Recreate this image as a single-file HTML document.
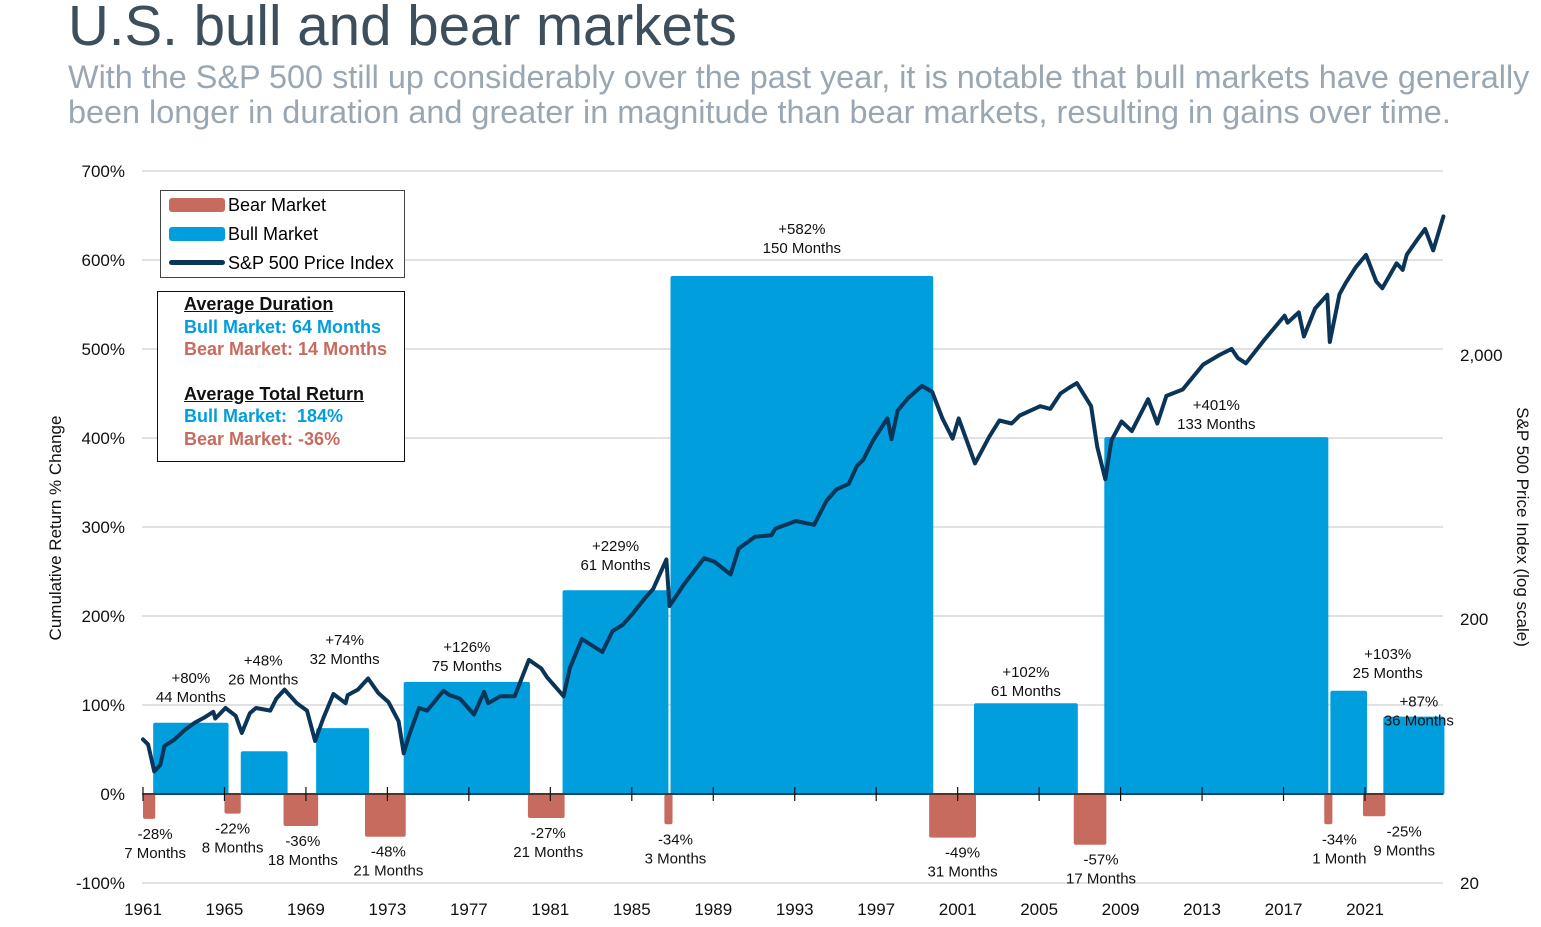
<!DOCTYPE html>
<html><head><meta charset="utf-8"><style>
body{margin:0;background:#fff;width:1541px;height:927px;overflow:hidden;font-family:"Liberation Sans",sans-serif}
.t{position:absolute;white-space:nowrap}
</style></head><body>
<div class="t" style="left:68px;top:-7px;font-size:56.5px;color:#3d4f5d">U.S. bull and bear markets</div>
<div class="t" style="left:68px;top:60px;font-size:32.4px;line-height:35px;color:#9aa7b2">With the S&amp;P 500 still up considerably over the past year, it is notable that bull markets have generally<br>been longer in duration and greater in magnitude than bear markets, resulting in gains over time.</div>
<svg id="c" width="1541" height="927" style="position:absolute;left:0;top:0" font-family="Liberation Sans, sans-serif"></svg>
<div class="t" style="left:160px;top:190px;width:243px;height:86px;border:1.5px solid #444;background:#fff;font-size:18px">
 <div style="position:absolute;left:8px;top:4px"><span style="display:inline-block;width:56px;height:14px;background:#c86b5f;border-radius:3px;vertical-align:-1px;margin-right:3px"></span>Bear Market</div>
 <div style="position:absolute;left:8px;top:33px"><span style="display:inline-block;width:56px;height:14px;background:#009edc;border-radius:3px;vertical-align:-1px;margin-right:3px"></span>Bull Market</div>
 <div style="position:absolute;left:8px;top:62px"><span style="display:inline-block;width:56px;height:5px;background:#0b3558;border-radius:3px;vertical-align:4px;margin-right:3px"></span>S&amp;P 500 Price Index</div>
</div>
<div class="t" style="left:157px;top:291px;width:248px;height:171px;border:1.5px solid #111;background:#fff;font-size:18px;font-weight:bold;line-height:22.5px;padding:1px 0 0 26px;box-sizing:border-box">
 <div style="text-decoration:underline;color:#111">Average Duration</div>
 <div style="color:#009edc">Bull Market: 64 Months</div>
 <div style="color:#c86b5f">Bear Market: 14 Months</div>
 <div style="height:22px"></div>
 <div style="text-decoration:underline;color:#111">Average Total Return</div>
 <div style="color:#009edc">Bull Market:&nbsp; 184%</div>
 <div style="color:#c86b5f">Bear Market: -36%</div>
</div>
<script>
const bullStart=[1961.5,1965.8,1969.5,1973.8,1981.6,1986.9,2001.8,2008.2,2019.3,2021.9];
const bullEnd=[1965.2,1968.1,1972.1,1980.0,1986.8,1999.8,2006.9,2019.2,2021.1,2024.9];
const bullVal=[80,48,74,126,229,582,102,401,116,87];
const bullLabel=["+80%","+48%","+74%","+126%","+229%","+582%","+102%","+401%","+103%","+87%"];
const bullMonths=["44 Months","26 Months","32 Months","75 Months","61 Months","150 Months","61 Months","133 Months","25 Months","36 Months"];
const bearStart=[1961.0,1965.0,1967.9,1971.9,1979.9,1986.6,1999.6,2006.7,2019.0,2020.9];
const bearEnd=[1961.6,1965.8,1969.6,1973.9,1981.7,1987.0,2001.9,2008.3,2019.4,2022.0];
const bearVal=[-28,-22,-36,-48,-27,-34,-49,-57,-34,-25];
const bearMonths=["7 Months","8 Months","18 Months","21 Months","21 Months","3 Months","31 Months","17 Months","1 Month","9 Months"];
const spYear=[1961.95,1962.2,1962.5,1962.8,1963.0,1963.5,1964.0,1964.5,1965.0,1965.4,1965.5,1966.0,1966.5,1966.8,1967.2,1967.5,1968.2,1968.5,1968.9,1969.5,1970.0,1970.4,1970.8,1971.3,1971.9,1972.0,1972.5,1973.0,1973.5,1974.0,1974.5,1974.75,1975.0,1975.5,1975.9,1976.7,1977.0,1977.5,1978.2,1978.7,1978.9,1979.5,1980.2,1980.9,1981.5,1981.8,1982.6,1982.9,1983.5,1984.5,1985.0,1985.5,1986.0,1986.6,1987.0,1987.65,1987.8,1988.5,1989.5,1990.0,1990.8,1991.2,1992.0,1992.8,1993.0,1994.0,1994.9,1995.5,1996.0,1996.6,1997.0,1997.3,1997.8,1998.5,1998.7,1999.0,1999.5,2000.2,2000.7,2001.2,2001.7,2002.0,2002.5,2002.8,2003.5,2004.0,2004.6,2005.0,2006.0,2006.5,2007.0,2007.4,2007.8,2008.5,2008.8,2009.2,2009.5,2010.0,2010.5,2011.3,2011.75,2012.2,2013.0,2014.0,2014.8,2015.4,2015.7,2016.1,2017.0,2018.0,2018.15,2018.7,2018.95,2019.5,2020.1,2020.22,2020.7,2021.0,2021.5,2022.0,2022.5,2022.8,2023.5,2023.8,2024.0,2024.5,2024.9,2025.3,2025.8];
const spPrice=[70,67,53,56,66,70,76,81,85,89,84,92,86,74,88,92,90,100,108,96,90,69,84,104,96,103,108,119,105,97,82,62,72,92,90,107,103,100,87,106,96,102,102,140,130,120,102,130,168,150,180,190,210,240,260,336,224,270,340,330,295,370,410,415,440,470,455,560,620,650,760,800,950,1150,960,1230,1370,1527,1450,1150,965,1150,900,777,980,1130,1100,1180,1280,1250,1430,1500,1565,1280,900,677,950,1120,1030,1360,1100,1400,1480,1840,2000,2110,1950,1860,2280,2820,2650,2900,2350,3000,3380,2240,3400,3750,4300,4790,3800,3580,4450,4200,4800,5450,6000,4980,6700];
const yTicks=[700,600,500,400,300,200,100,0,-100];
const xTicks=[1961,1965,1969,1973,1977,1981,1985,1989,1993,1997,2001,2005,2009,2013,2017,2021];
const rTicks=[2000,200,20];
const rLabels=["2,000","200","20"];
const bearLabelShift=[6,0,2,3,2,7,10,11,11,30];
const bullLabelDy=[-45,-91,-88,-35,-44,-47,-31,-32,-37,-15];
const bullLabelDx=[0,-1,2,0,0,0,0,0,39,5];
const X=y=>143+(y-1961)*1222/60;
const XL=y=>X(y-0.95);
const Y=v=>794-v*0.89;
const R=p=>883-264*Math.log10(p/20);
const svg=document.getElementById('c');
const NS='http://www.w3.org/2000/svg';
function mk(tag,attrs,parent){const e=document.createElementNS(NS,tag);for(const k in attrs)e.setAttribute(k,attrs[k]);(parent||svg).appendChild(e);return e;}
function txt(x,y,s,attrs){const e=mk('text',Object.assign({x:x,y:y,'font-size':16,fill:'#111'},attrs||{}));e.textContent=s;return e;}
yTicks.forEach(v=>{
 if(v!==0){const g=mk('line',{x1:142,x2:1443,y1:Y(v),y2:Y(v),stroke:'#cfcfcf','stroke-width':1.3});
 
 }
 const l=txt(125,Y(v)+6,v+'%',{'text-anchor':'end','font-size':17});
 
 
});
rTicks.forEach((p,i)=>{const l=txt(1460,R(p)+6,rLabels[i],{'font-size':17});
 
 });
xTicks.forEach(y=>{const l=txt(X(y),915,String(y),{'text-anchor':'middle','font-size':17});
 
 });
bullVal.forEach((v,i)=>{
 const x0=X(bullStart[i]),x1=X(bullEnd[i]);
 const r=mk('rect',{x:x0,y:Y(v),width:x1-x0,height:Y(0)-Y(v)+1,fill:'#009edc',rx:2});
 
 
 const cx=(x0+x1)/2+bullLabelDx[i];
 const a=txt(cx,Y(v)+bullLabelDy[i]+5,bullLabel[i],{'text-anchor':'middle','font-size':15});
 
 
 const b=txt(cx,Y(v)+bullLabelDy[i]+24,bullMonths[i],{'text-anchor':'middle','font-size':15});
 
 
});
bearVal.forEach((v,i)=>{
 const x0=X(bearStart[i]),x1=X(bearEnd[i]);
 const r=mk('rect',{x:x0,y:Y(0)-1,width:x1-x0,height:Y(v)-Y(0)+1,fill:'#c86b5f',rx:2});
 
 
 const cx=(x0+x1)/2+bearLabelShift[i];
 const a=txt(cx,Y(v)+20,v+'%',{'text-anchor':'middle','font-size':15});
 
 
 const b=txt(cx,Y(v)+39,bearMonths[i],{'text-anchor':'middle','font-size':15});
 
 
});
const zl=mk('line',{x1:142,x2:1443,y1:Y(0),y2:Y(0),stroke:'#111','stroke-width':1.3});


xTicks.forEach(y=>{const t=mk('line',{x1:X(y),x2:X(y),y1:Y(0)-7,y2:Y(0)+7,stroke:'#111','stroke-width':1.2});
 
 });
const pts=spYear.map((y,i)=>XL(y).toFixed(1)+','+R(spPrice[i]).toFixed(1)).join(' ');
const pl=mk('polyline',{points:pts,fill:'none',stroke:'#0b3558','stroke-width':4,'stroke-linejoin':'round','stroke-linecap':'round'});


const lt=txt(0,0,'Cumulative Return % Change',{'font-size':17,'text-anchor':'middle',transform:'translate(61,528) rotate(-90)'});


const rt=txt(0,0,'S&P 500 Price Index (log scale)',{'font-size':17,'text-anchor':'middle',transform:'translate(1517,527) rotate(90)'});


</script>
</body></html>
